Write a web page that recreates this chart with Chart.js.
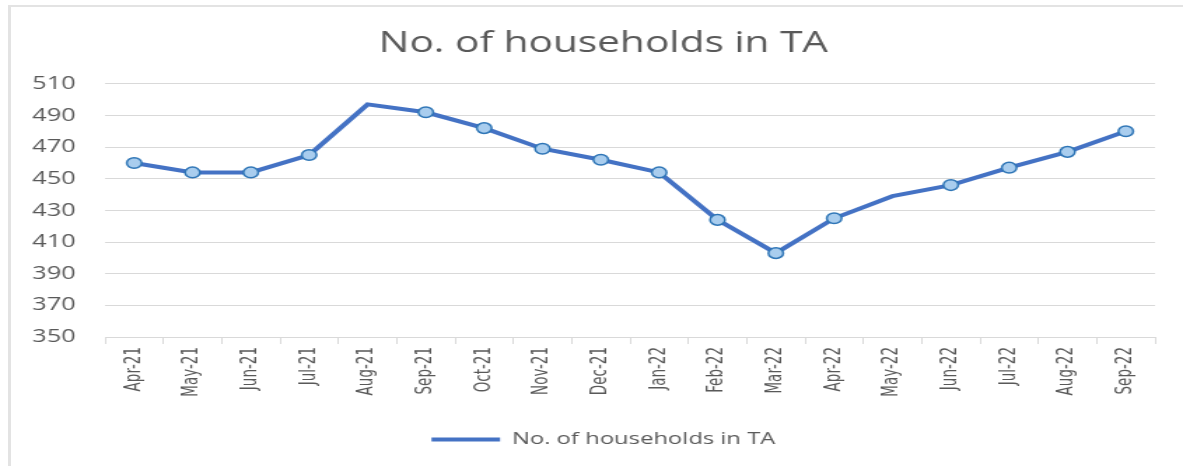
<!DOCTYPE html>
<html>
<head>
<meta charset="utf-8">
<script src="https://cdn.jsdelivr.net/npm/chart.js@4"></script>
<style>
  html, body { margin: 0; padding: 0; background: #fff; overflow: hidden; }
  #frame {
    position: absolute; left: 8px; top: 5px; width: 1300px; height: 600px;
    border-left: 3px solid #e3e3e3; border-top: 2px solid #e3e3e3;
  }
  #chart { position: absolute; left: 0; top: 0; }
</style>
</head>
<body>
<div id="frame"></div>
<!-- the reference picture is stretched sideways, so the canvas is drawn at 845 wide and shown at 1183 -->
<canvas id="chart" width="845" height="466" style="width:1183px;height:466px"></canvas>
<script>
// Data
const months = ['Apr-21', 'May-21', 'Jun-21', 'Jul-21', 'Aug-21', 'Sep-21', 'Oct-21', 'Nov-21', 'Dec-21',
                'Jan-22', 'Feb-22', 'Mar-22', 'Apr-22', 'May-22', 'Jun-22', 'Jul-22', 'Aug-22', 'Sep-22'];
const households = [460, 454, 454, 465, 497, 492, 482, 469, 462, 454, 424, 403, 425, 439, 446, 457, 467, 480];
// months drawn without a marker in the original
const noMarker = ['Aug-21', 'May-22'];
const yTicks = [350, 370, 390, 410, 430, 450, 470, 490, 510];

const grey = '#595959';
const lineBlue = '#4472C4';

let ctx = document.getElementById('chart').getContext('2d');
let householdChart = new Chart(ctx, {
    type: 'line',
    data: {
        labels: months,
        datasets: [{
            label: 'No. of households in TA',
            data: households,
            borderColor: lineBlue,
            borderWidth: 4,
            backgroundColor: '#9DC3E6',
            pointBackgroundColor: '#a9cdee',
            pointBorderColor: '#2E75B6',
            pointBorderWidth: 1.5,
            pointRadius: c => noMarker.includes(months[c.dataIndex]) ? 0 : 5.3,
            tension: 0
        }]
    },
    options: {
        responsive: false,
        animation: false,
        layout: { padding: { left: 17, right: 0, top: 0, bottom: 8 } },
        plugins: {
            title: {
                display: true,
                text: 'No. of households in TA',
                color: grey,
                font: { family: 'Open Sans', size: 29, weight: 'normal' },
                padding: { top: 26, bottom: 23 }
            },
            legend: {
                position: 'bottom',
                labels: {
                    color: grey,
                    font: { family: 'Open Sans', size: 17 },
                    usePointStyle: true,
                    pointStyle: 'line',
                    pointStyleWidth: 49,
                    padding: 10,
                    generateLabels: chart => {
                        const items = Chart.defaults.plugins.legend.labels.generateLabels(chart);
                        items.forEach(it => { it.lineWidth = 4; it.strokeStyle = lineBlue; it.pointStyle = 'line'; });
                        return items;
                    }
                }
            },
            tooltip: { enabled: false }
        },
        scales: {
            x: {
                offset: true,
                grid: {
                    offset: true,
                    drawOnChartArea: false,
                    drawTicks: true,
                    tickLength: 7,
                    color: '#d9d9d9'
                },
                border: { color: '#d9d9d9', width: 1 },
                ticks: {
                    color: grey,
                    font: { family: "'DejaVu Sans Condensed', 'Liberation Sans', sans-serif", size: 15 },
                    minRotation: 90,
                    maxRotation: 90,
                    padding: 3
                },
                afterFit: scale => { scale.height = 84; }
            },
            y: {
                min: 350,
                max: 510,
                afterBuildTicks: scale => { scale.ticks = yTicks.map(v => ({ value: v })); },
                grid: { color: '#d9d9d9', drawTicks: false },
                border: { display: false },
                ticks: {
                    color: grey,
                    font: { family: 'Open Sans', size: 18 },
                    padding: 21
                },
                afterFit: scale => { scale.width = 58; }
            },
            // empty right-hand axis, only to keep the right margin of the original
            yRight: {
                position: 'right',
                grid: { drawOnChartArea: false, drawTicks: false },
                border: { display: false },
                ticks: { display: false },
                afterFit: scale => { scale.width = 20; }
            }
        }
    }
});
</script>
</body>
</html>
